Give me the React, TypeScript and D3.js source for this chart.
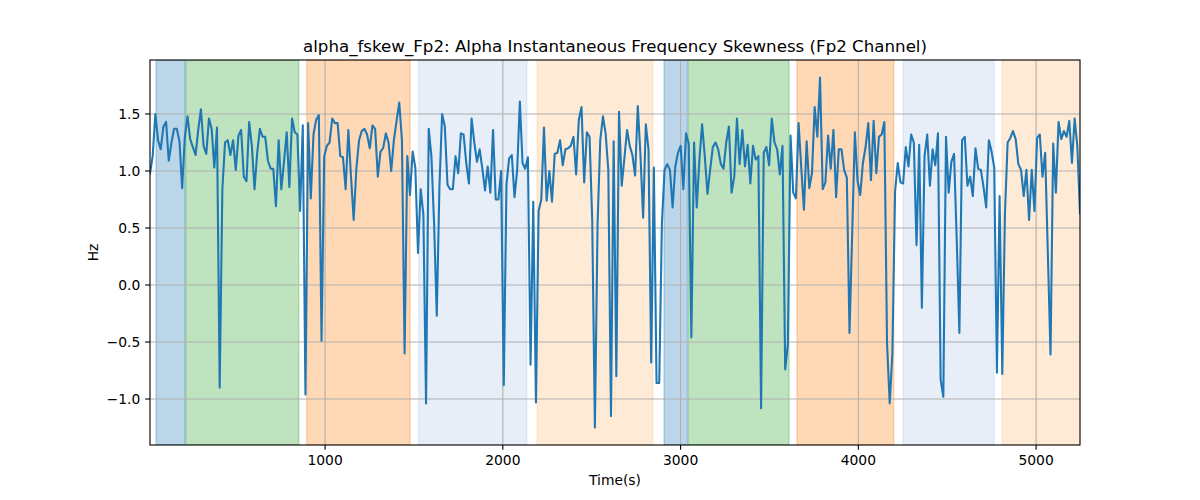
import React from 'react';
import * as d3 from 'd3';

// alpha_fskew_Fp2 samples, evenly spaced over the recording
const T_START = 15;
const T_END = 5247;
const VALUES = [
  0.98, 1.13, 1.5, 1.27, 1.19, 1.39, 1.43, 1.09, 1.25, 1.37, 1.37, 1.26, 0.85, 1.3, 1.48, 1.28, 1.21, 1.14, 1.36, 1.54, 1.22, 1.15,
  1.46, 1.37, 1.03, 1.38, -0.9, 0.84, 1.25, 1.27, 1.14, 1.27, 1.01, 1.31, 1.36, 0.95, 0.91, 1.43, 1.22, 0.84, 1.16, 1.37, 1.3, 1.3,
  1.09, 1.02, 1.02, 0.69, 1.27, 0.84, 1.08, 1.34, 0.86, 1.46, 1.34, 1.32, 0.65, 1.4, -0.96, 1.42, 0.76, 1.32, 1.45, 1.49, -0.49, 1.13,
  1.22, 1.25, 1.46, 1.42, 1.42, 1.13, 1.12, 0.84, 1.36, 0.95, 0.57, 1.02, 1.27, 1.35, 1.37, 1.32, 1.2, 1.4, 1.37, 0.95, 1.17, 1.2,
  1.33, 1.25, 1.0, 1.27, 1.44, 1.6, 1.27, -0.6, 1.13, 0.79, 1.17, 1.03, 0.28, 0.84, 0.62, -1.04, 1.37, 1.13, 0.54, -0.27, 0.87, 1.5,
  1.39, 0.88, 0.84, 0.84, 1.13, 0.98, 1.33, 1.32, 1.07, 0.89, 1.46, 1.25, 1.08, 1.19, 1.02, 0.83, 1.04, 0.81, 1.36, 0.75, 0.75, 1.0,
  -0.88, 0.88, 1.11, 1.14, 0.77, 1.01, 1.61, 1.07, 1.02, 1.12, -0.7, 0.73, -1.03, 0.65, 0.75, 1.38, 0.74, 1.0, 0.73, 1.15, 1.16, 1.27,
  1.05, 1.19, 1.2, 1.22, 1.3, 0.97, 1.45, 1.56, 0.9, 1.34, 1.3, 0.57, -1.25, 0.54, 1.27, 1.48, 1.33, 1.01, -1.15, 1.26, -0.8,
  1.52, 0.87, 1.11, 1.36, 1.22, 1.14, 0.96, 1.57, 1.14, 0.59, 1.41, 1.19, -0.68, 1.03, -0.86, -0.86, 0.54, 1.01, 1.06, 1.01, 0.68, 1.04,
  1.16, 1.22, 0.84, 1.33, 1.24, -0.46, 1.25, 0.68, 1.1, 1.41, 1.13, 0.8, 1.01, 1.21, 1.25, 1.19, 1.06, 1.02, 1.25, 1.39, 0.81,
  0.95, 1.46, 1.06, 1.36, 1.04, 1.23, 0.89, 1.22, 1.1, 1.13, -1.08, 1.16, 1.21, 1.05, 1.46, 1.25, 1.19, 0.97, 1.22, -0.74, -0.52, 1.31,
  0.81, 0.76, 1.42, 1.03, 0.66, 1.26, 0.85, 0.98, 1.56, 1.3, 1.82, 0.84, 0.9, 1.31, 1.02, 1.36, 0.77, 1.19, 1.19, 1.01, 0.94, -0.42,
  0.45, 1.34, 0.91, 0.79, 1.07, 1.21, 1.42, 0.92, 1.44, 0.98, 1.3, 1.32, 1.43, -0.51, -1.04, -0.6, 0.82, 1.07, 0.9, 0.89, 1.21, 1.04,
  1.32, 1.25, 0.35, 1.23, -0.2, 1.13, 1.32, 0.87, 1.19, 1.05, 1.33, -0.83, -0.98, 1.3, 0.81, 1.08, 1.15, 0.4, -0.42, 1.27, 1.3, 0.87,
  0.95, 0.78, 1.2, 1.02, 1.01, 0.86, 0.68, 1.27, 1.17, 1.03, -0.77, 0.78, -0.78, 0.63, 1.25, 1.29, 1.35, 1.28, 1.06, 1.01, 0.78,
  1.01, 0.57, 1.01, 0.65, 1.29, 1.32, 0.95, 1.16, 0.28, -0.61, 1.24, 0.81, 1.43, 1.28, 1.35, 1.3, 1.44, 1.07, 1.46, 1.22, 0.63,
];

// shaded segments (seconds) and which state each one is
const SPAN_START = [49, 216, 897, 1527, 2193, 2907, 3044, 3655, 4252, 4809];
const SPAN_END = [212, 852, 1478, 2135, 2844, 3038, 3610, 4199, 4764, 5300];
const SPAN_STATE = [0, 1, 2, 3, 4, 0, 1, 2, 3, 4];

const X_TICKS = [1000, 2000, 3000, 4000, 5000];
const Y_TICKS = [-1.0, -0.5, 0.0, 0.5, 1.0, 1.5];

const STATE_COLORS = ['#1f77b4', '#2ca02c', '#ff7f0e', '#aec7e8', '#ffbb78'];
const FONT = '"DejaVu Sans", sans-serif';
const PT = 100 / 72; // matplotlib points -> px at 100 dpi

export default function App() {
  const W = 1200;
  const H = 500;
  const left = 150, right = 1080, top = 60, bottom = 445;

  const times = VALUES.map((_, i) => T_START + (i * (T_END - T_START)) / (VALUES.length - 1));
  const [lo, hi] = d3.extent(VALUES) as [number, number];
  const pad = (hi - lo) * 0.05;

  const x = d3.scaleLinear().domain([T_START, T_END]).range([left, right]);
  const y = d3.scaleLinear().domain([lo - pad, hi + pad]).range([bottom, top]);

  const line = d3.line<number>()
    .x((_, i) => x(times[i]))
    .y(d => y(d));

  const fmtY = d3.format('.1f');
  const fmtX = d3.format('d');
  const tickLen = 3.5 * PT;
  const tickFont = 10 * PT;

  return (
    <svg width={W} height={H} style={{ display: 'block', fontFamily: FONT }}>
      <style>{'body{margin:0}'}</style>
      <rect x={0} y={0} width={W} height={H} fill="#fff" />
      <defs>
        <clipPath id="plot-area">
          <rect x={left} y={top} width={right - left} height={bottom - top} />
        </clipPath>
      </defs>

      <g clipPath="url(#plot-area)">
        {SPAN_START.map((s, i) => (
          <rect
            key={i}
            x={x(s)}
            y={top}
            width={x(SPAN_END[i]) - x(s)}
            height={bottom - top}
            fill={STATE_COLORS[SPAN_STATE[i]]}
            fillOpacity={0.3}
            stroke={STATE_COLORS[SPAN_STATE[i]]}
            strokeOpacity={0.3}
            strokeWidth={PT}
          />
        ))}

        {/* grid */}
        {X_TICKS.map(t => (
          <line key={'gx' + t} x1={x(t)} x2={x(t)} y1={top} y2={bottom} stroke="#b0b0b0" strokeWidth={0.8 * PT} />
        ))}
        {Y_TICKS.map(t => (
          <line key={'gy' + t} x1={left} x2={right} y1={y(t)} y2={y(t)} stroke="#b0b0b0" strokeWidth={0.8 * PT} />
        ))}

        <path d={line(VALUES) || ''} fill="none" stroke="#1f77b4" strokeWidth={1.5 * PT} strokeLinejoin="round" strokeLinecap="square" />
      </g>

      {/* spines */}
      <rect x={left} y={top} width={right - left} height={bottom - top} fill="none" stroke="#000" strokeWidth={0.8 * PT} />

      {/* x axis */}
      {X_TICKS.map(t => (
        <g key={'tx' + t} transform={`translate(${x(t)},${bottom})`}>
          <line y2={tickLen} stroke="#000" strokeWidth={0.8 * PT} />
          <text y={tickLen * 2} dy="0.76em" textAnchor="middle" fontSize={tickFont} fill="#000">{fmtX(t)}</text>
        </g>
      ))}
      {/* y axis */}
      {Y_TICKS.map(t => (
        <g key={'ty' + t} transform={`translate(${left},${y(t)})`}>
          <line x2={-tickLen} stroke="#000" strokeWidth={0.8 * PT} />
          <text x={-tickLen * 2} dy="0.36em" textAnchor="end" fontSize={tickFont} fill="#000">{fmtY(t)}</text>
        </g>
      ))}

      <text x={(left + right) / 2} y={52} textAnchor="middle" fontSize={12 * PT} fill="#000">
        alpha_fskew_Fp2: Alpha Instantaneous Frequency Skewness (Fp2 Channel)
      </text>
      <text x={(left + right) / 2} y={485} textAnchor="middle" fontSize={tickFont} fill="#000">Time(s)</text>
      <text transform={`translate(98,${(top + bottom) / 2}) rotate(-90)`} textAnchor="middle" fontSize={tickFont} fill="#000">Hz</text>
    </svg>
  );
}
